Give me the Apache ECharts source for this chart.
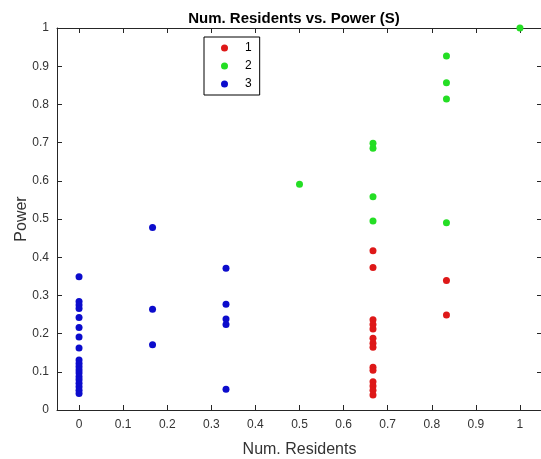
<!DOCTYPE html>
<html>
<head>
<meta charset="utf-8">
<script src="https://cdn.jsdelivr.net/npm/echarts@6/dist/echarts.min.js"></script>
<style>html,body{margin:0;padding:0;background:#fff;}#c{width:541px;height:459px;}</style>
</head>
<body>
<div id="c"></div>
<script>
// Data
const xTicks = [0, 0.1, 0.2, 0.3, 0.4, 0.5, 0.6, 0.7, 0.8, 0.9, 1];
const seriesNames = ['1', '2', '3'];
const cluster1 = [
  [0.6667, 0.417], [0.6667, 0.373], [0.6667, 0.236], [0.6667, 0.224], [0.6667, 0.212],
  [0.6667, 0.188], [0.6667, 0.175], [0.6667, 0.164], [0.6667, 0.112], [0.6667, 0.104],
  [0.6667, 0.074], [0.6667, 0.063], [0.6667, 0.052], [0.6667, 0.039],
  [0.8333, 0.339], [0.8333, 0.249]
];
const cluster2 = [
  [0.5, 0.591],
  [0.6667, 0.698], [0.6667, 0.685], [0.6667, 0.558], [0.6667, 0.495],
  [0.8333, 0.927], [0.8333, 0.857], [0.8333, 0.814], [0.8333, 0.490],
  [1, 1.0]
];
const cluster3 = [
  [0, 0.349], [0, 0.284], [0, 0.275], [0, 0.266], [0, 0.242], [0, 0.216], [0, 0.191],
  [0, 0.162], [0, 0.131], [0, 0.122], [0, 0.113], [0, 0.105], [0, 0.097], [0, 0.087],
  [0, 0.079], [0, 0.070], [0, 0.061], [0, 0.052], [0, 0.043],
  [0.1667, 0.478], [0.1667, 0.264], [0.1667, 0.171],
  [0.3333, 0.371], [0.3333, 0.277], [0.3333, 0.238], [0.3333, 0.224], [0.3333, 0.054]
];

const colors = ['rgb(222,24,24)', 'rgb(36,222,36)', 'rgb(12,12,204)'];
const axisCol = '#262626';
const font = 'Liberation Sans, Arial, sans-serif';

const chart = echarts.init(document.getElementById('c'));
const xCommon = {
  type: 'value', min: -0.05, max: 1.05,
  axisLine: { show: true, onZero: false, lineStyle: { color: axisCol, width: 1 } },
  splitLine: { show: false }
};
const yCommon = {
  type: 'value', min: 0, max: 1, interval: 0.1,
  axisLine: { show: true, onZero: false, lineStyle: { color: axisCol, width: 1 } },
  splitLine: { show: false }
};
chart.setOption({
  animation: false,
  backgroundColor: '#fff',
  title: {
    text: 'Num. Residents vs. Power (S)',
    left: 289, top: 6, textAlign: 'center',
    textStyle: { fontFamily: font, fontSize: 15, fontWeight: 'bold', color: '#000' }
  },
  legend: {
    orient: 'vertical', left: 204, top: 37,
    data: seriesNames,
    icon: 'circle', itemWidth: 7, itemHeight: 7, itemGap: 4,
    padding: [4, 8, 4, 17],
    borderColor: '#000', borderWidth: 1, backgroundColor: '#fff',
    textStyle: { fontFamily: font, fontSize: 12, color: '#000', lineHeight: 14, padding: [0, 0, 0, 12] }
  },
  grid: { left: 57, top: 28, right: -1, bottom: 49, containLabel: false, outerBoundsMode: 'none' },
  xAxis: [
    Object.assign({}, xCommon, {
      position: 'bottom',
      name: 'Num. Residents', nameLocation: 'middle', nameGap: 32, nameMoveOverlap: false,
      nameTextStyle: { fontFamily: font, fontSize: 16, color: '#333' },
      axisTick: { show: true, inside: true, length: 5, customValues: xTicks, lineStyle: { color: axisCol } },
      axisLabel: { show: true, margin: 9, customValues: xTicks, fontFamily: font, fontSize: 12, color: '#333',
        formatter: v => String(Math.round(v * 10) / 10) }
    }),
    Object.assign({}, xCommon, {
      position: 'top',
      axisTick: { show: true, inside: true, length: 5, customValues: xTicks, lineStyle: { color: axisCol } },
      axisLabel: { show: false }
    })
  ],
  yAxis: [
    Object.assign({}, yCommon, {
      position: 'left',
      name: 'Power', nameLocation: 'middle', nameGap: 27, nameRotate: 90, nameMoveOverlap: false,
      nameTextStyle: { fontFamily: font, fontSize: 16, color: '#333' },
      axisTick: { show: true, inside: true, length: 5, lineStyle: { color: axisCol } },
      axisLabel: { show: true, margin: 8, fontFamily: font, fontSize: 12, color: '#333',
        formatter: v => String(Math.round(v * 10) / 10) }
    }),
    Object.assign({}, yCommon, {
      position: 'right',
      axisTick: { show: true, inside: true, length: 5, lineStyle: { color: axisCol } },
      axisLabel: { show: false }
    })
  ],
  series: [cluster1, cluster2, cluster3].map((d, i) => ({
    name: seriesNames[i], type: 'scatter', data: d,
    xAxisIndex: 0, yAxisIndex: 0,
    symbol: 'circle', symbolSize: 7,
    itemStyle: { color: colors[i], opacity: 1 },
    emphasis: { disabled: true }
  }))
});
</script>
</body>
</html>
